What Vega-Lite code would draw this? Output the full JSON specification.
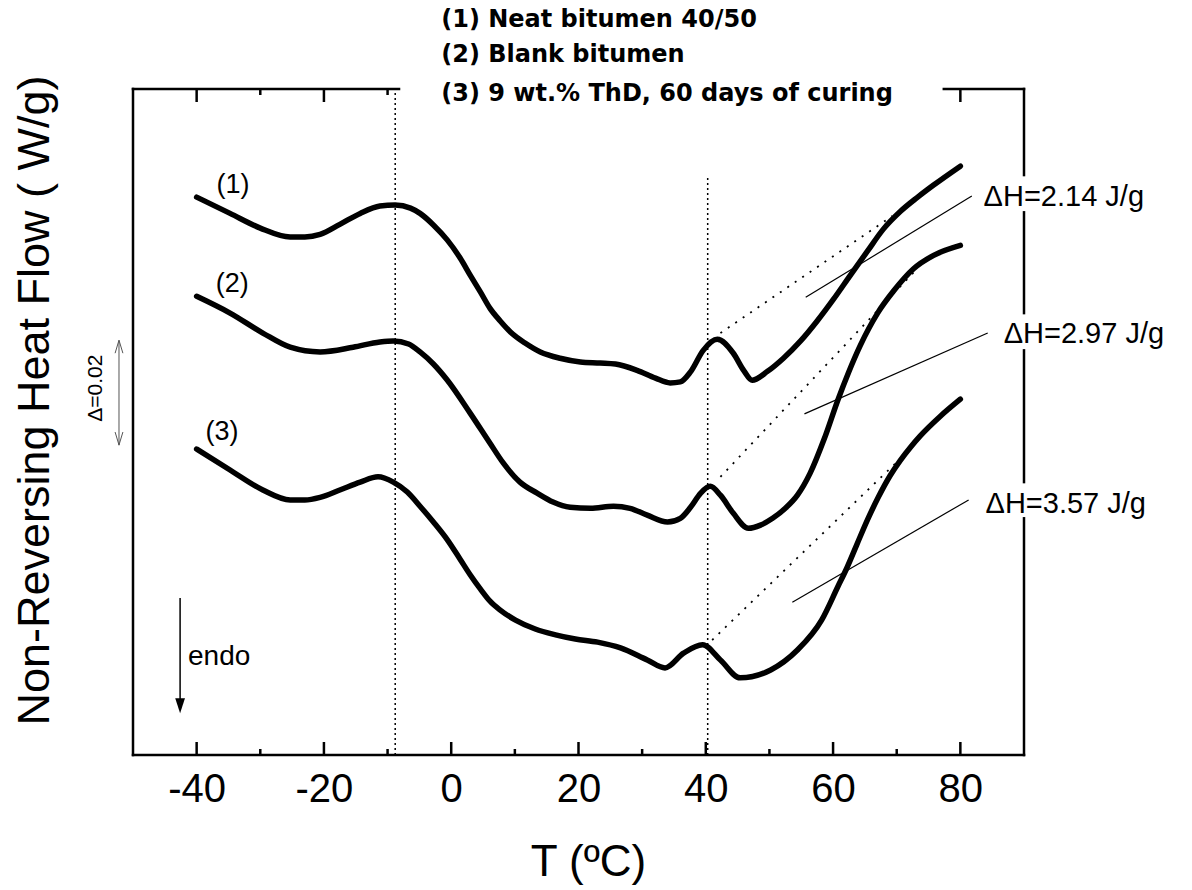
{
  "$schema": "https://vega.github.io/schema/vega-lite/v6.json",
  "width": 891,
  "height": 666,
  "autosize": {"type": "none"},
  "padding": {"left": 133, "top": 89, "right": 168, "bottom": 135},
  "background": "white",
  "config": {"view": {"stroke": null}, "axis": {"grid": false}},
  "datasets": {
    "curves": [
      {"s": 1, "T": -40, "hf": 106.3}, {"s": 1, "T": -34.75, "hf": 103.2}, {"s": 1, "T": -30.0, "hf": 100.4}, {"s": 1, "T": -25.3, "hf": 98.7}, {"s": 1, "T": -23.0, "hf": 98.7}, {"s": 1, "T": -20.6, "hf": 99.2}, {"s": 1, "T": -17.5, "hf": 101.1}, {"s": 1, "T": -14.3, "hf": 103.2}, {"s": 1, "T": -11.2, "hf": 104.6}, {"s": 1, "T": -8.8, "hf": 104.8}, {"s": 1, "T": -6.4, "hf": 104.2}, {"s": 1, "T": -4.9, "hf": 103.2}, {"s": 1, "T": -2.8, "hf": 101.0}, {"s": 1, "T": -0.6, "hf": 98.1}, {"s": 1, "T": 1.4, "hf": 94.7}, {"s": 1, "T": 3.0, "hf": 91.4}, {"s": 1, "T": 4.6, "hf": 88.2}, {"s": 1, "T": 6.1, "hf": 85.1}, {"s": 1, "T": 7.7, "hf": 82.7}, {"s": 1, "T": 9.3, "hf": 80.6}, {"s": 1, "T": 11.6, "hf": 78.5}, {"s": 1, "T": 14.0, "hf": 76.8}, {"s": 1, "T": 17.1, "hf": 75.6}, {"s": 1, "T": 20.3, "hf": 74.9}, {"s": 1, "T": 23.4, "hf": 74.7}, {"s": 1, "T": 25.8, "hf": 74.5}, {"s": 1, "T": 29.2, "hf": 73.3}, {"s": 1, "T": 32.1, "hf": 71.8}, {"s": 1, "T": 34.4, "hf": 70.9}, {"s": 1, "T": 36.0, "hf": 71.1}, {"s": 1, "T": 37.6, "hf": 73.0}, {"s": 1, "T": 39.6, "hf": 77.1}, {"s": 1, "T": 41.8, "hf": 79.2}, {"s": 1, "T": 44.3, "hf": 76.6}, {"s": 1, "T": 46.0, "hf": 73.2}, {"s": 1, "T": 47.3, "hf": 71.4}, {"s": 1, "T": 49.7, "hf": 73.1}, {"s": 1, "T": 52.2, "hf": 75.6}, {"s": 1, "T": 54.9, "hf": 78.9}, {"s": 1, "T": 57.5, "hf": 82.7}, {"s": 1, "T": 60.1, "hf": 86.9}, {"s": 1, "T": 62.7, "hf": 91.4}, {"s": 1, "T": 65.4, "hf": 96.0}, {"s": 1, "T": 67.9, "hf": 100.2}, {"s": 1, "T": 70.6, "hf": 103.6}, {"s": 1, "T": 73.3, "hf": 106.3}, {"s": 1, "T": 75.8, "hf": 108.6}, {"s": 1, "T": 80.0, "hf": 112.2},
      {"s": 2, "T": -40, "hf": 87.4}, {"s": 2, "T": -34.75, "hf": 84.2}, {"s": 2, "T": -29.6, "hf": 80.4}, {"s": 2, "T": -25.3, "hf": 77.7}, {"s": 2, "T": -20.6, "hf": 76.8}, {"s": 2, "T": -15.4, "hf": 77.7}, {"s": 2, "T": -11.2, "hf": 78.7}, {"s": 2, "T": -9.1, "hf": 78.9}, {"s": 2, "T": -6.7, "hf": 78.3}, {"s": 2, "T": -4.9, "hf": 76.8}, {"s": 2, "T": -2.8, "hf": 74.5}, {"s": 2, "T": -0.6, "hf": 71.4}, {"s": 2, "T": 3.0, "hf": 65.1}, {"s": 2, "T": 6.1, "hf": 59.4}, {"s": 2, "T": 8.2, "hf": 55.6}, {"s": 2, "T": 10.8, "hf": 52.0}, {"s": 2, "T": 13.5, "hf": 49.9}, {"s": 2, "T": 16.0, "hf": 48.2}, {"s": 2, "T": 18.7, "hf": 47.2}, {"s": 2, "T": 21.9, "hf": 47.0}, {"s": 2, "T": 25.5, "hf": 47.4}, {"s": 2, "T": 28.1, "hf": 47.0}, {"s": 2, "T": 30.8, "hf": 45.7}, {"s": 2, "T": 34.0, "hf": 44.4}, {"s": 2, "T": 36.0, "hf": 45.1}, {"s": 2, "T": 37.6, "hf": 47.2}, {"s": 2, "T": 39.2, "hf": 49.9}, {"s": 2, "T": 40.7, "hf": 51.2}, {"s": 2, "T": 42.3, "hf": 49.5}, {"s": 2, "T": 44.3, "hf": 46.1}, {"s": 2, "T": 46.7, "hf": 43.2}, {"s": 2, "T": 48.6, "hf": 43.8}, {"s": 2, "T": 50.5, "hf": 45.1}, {"s": 2, "T": 52.5, "hf": 47.0}, {"s": 2, "T": 54.4, "hf": 49.5}, {"s": 2, "T": 56.4, "hf": 53.7}, {"s": 2, "T": 58.6, "hf": 60.2}, {"s": 2, "T": 60.8, "hf": 67.8}, {"s": 2, "T": 62.4, "hf": 72.8}, {"s": 2, "T": 64.3, "hf": 78.1}, {"s": 2, "T": 67.0, "hf": 84.2}, {"s": 2, "T": 69.5, "hf": 88.4}, {"s": 2, "T": 72.6, "hf": 92.6}, {"s": 2, "T": 75.8, "hf": 95.2}, {"s": 2, "T": 80.0, "hf": 97.1},
      {"s": 3, "T": -40, "hf": 58.3}, {"s": 3, "T": -34.75, "hf": 54.3}, {"s": 3, "T": -29.6, "hf": 50.5}, {"s": 3, "T": -25.3, "hf": 48.6}, {"s": 3, "T": -23.0, "hf": 48.6}, {"s": 3, "T": -20.6, "hf": 49.1}, {"s": 3, "T": -17.5, "hf": 50.5}, {"s": 3, "T": -14.3, "hf": 52.0}, {"s": 3, "T": -11.5, "hf": 53.0}, {"s": 3, "T": -9.1, "hf": 52.0}, {"s": 3, "T": -6.9, "hf": 50.1}, {"s": 3, "T": -4.9, "hf": 47.4}, {"s": 3, "T": -2.8, "hf": 44.4}, {"s": 3, "T": -0.6, "hf": 41.0}, {"s": 3, "T": 1.4, "hf": 37.3}, {"s": 3, "T": 3.0, "hf": 34.3}, {"s": 3, "T": 4.6, "hf": 31.6}, {"s": 3, "T": 6.1, "hf": 29.3}, {"s": 3, "T": 7.7, "hf": 27.6}, {"s": 3, "T": 10.1, "hf": 25.7}, {"s": 3, "T": 13.2, "hf": 24.0}, {"s": 3, "T": 16.4, "hf": 22.9}, {"s": 3, "T": 19.5, "hf": 22.1}, {"s": 3, "T": 23.0, "hf": 21.5}, {"s": 3, "T": 26.6, "hf": 20.4}, {"s": 3, "T": 30.8, "hf": 18.1}, {"s": 3, "T": 33.6, "hf": 16.6}, {"s": 3, "T": 36.5, "hf": 19.4}, {"s": 3, "T": 39.5, "hf": 21.0}, {"s": 3, "T": 42.3, "hf": 18.1}, {"s": 3, "T": 45.4, "hf": 14.7}, {"s": 3, "T": 50.2, "hf": 16.2}, {"s": 3, "T": 54.4, "hf": 20.0}, {"s": 3, "T": 58.2, "hf": 25.7}, {"s": 3, "T": 60.8, "hf": 32.2}, {"s": 3, "T": 62.0, "hf": 35.2}, {"s": 3, "T": 63.7, "hf": 40.0}, {"s": 3, "T": 65.4, "hf": 44.8}, {"s": 3, "T": 67.1, "hf": 49.1}, {"s": 3, "T": 69.0, "hf": 53.3}, {"s": 3, "T": 70.6, "hf": 56.2}, {"s": 3, "T": 72.2, "hf": 58.7}, {"s": 3, "T": 73.7, "hf": 60.8}, {"s": 3, "T": 76.9, "hf": 64.6}, {"s": 3, "T": 80.0, "hf": 67.8}
    ],
    "baselines": [
      {"id": "b1", "T": 42.3, "hf": 80.4}, {"id": "b1", "T": 69.3, "hf": 102.7},
      {"id": "b2", "T": 42.3, "hf": 53.0}, {"id": "b2", "T": 73.0, "hf": 92.4},
      {"id": "b3", "T": 41.0, "hf": 21.9}, {"id": "b3", "T": 70.0, "hf": 55.8}
    ],
    "leaders": [
      {"id": "a", "T": 55.7, "hf": 87.2}, {"id": "a", "T": 81.8, "hf": 106.5},
      {"id": "b", "T": 55.5, "hf": 65.0}, {"id": "b", "T": 84.3, "hf": 80.4},
      {"id": "c", "T": 53.6, "hf": 29.1}, {"id": "c", "T": 81.3, "hf": 48.6}
    ],
    "vlines": [
      {"T": -8.8, "hf": 0, "hf2": 126.9},
      {"T": 40.3, "hf": 0, "hf2": 110.5}
    ],
    "frame": [
      {"T": -50, "T2": 90, "hf": 0, "hf2": 0},
      {"T": -50, "T2": -50, "hf": 0, "hf2": 126.9},
      {"T": -50, "T2": -8.2, "hf": 126.9, "hf2": 126.9},
      {"T": 77.4, "T2": 90, "hf": 126.9, "hf2": 126.9},
      {"T": 90, "T2": 90, "hf": 110.5, "hf2": 126.9},
      {"T": 90, "T2": 90, "hf": 84.2, "hf2": 103.4},
      {"T": 90, "T2": 90, "hf": 52.0, "hf2": 77.1},
      {"T": 90, "T2": 90, "hf": 0, "hf2": 45.1}
    ],
    "ticks": [
      {"T": -40, "hf": 0, "kind": "major", "side": "bottom"}, {"T": -20, "hf": 0, "kind": "major", "side": "bottom"}, {"T": 0, "hf": 0, "kind": "major", "side": "bottom"}, {"T": 20, "hf": 0, "kind": "major", "side": "bottom"}, {"T": 40, "hf": 0, "kind": "major", "side": "bottom"}, {"T": 60, "hf": 0, "kind": "major", "side": "bottom"}, {"T": 80, "hf": 0, "kind": "major", "side": "bottom"},
      {"T": -30, "hf": 0, "kind": "minor", "side": "bottom"}, {"T": -10, "hf": 0, "kind": "minor", "side": "bottom"}, {"T": 10, "hf": 0, "kind": "minor", "side": "bottom"}, {"T": 30, "hf": 0, "kind": "minor", "side": "bottom"}, {"T": 50, "hf": 0, "kind": "minor", "side": "bottom"}, {"T": 70, "hf": 0, "kind": "minor", "side": "bottom"},
      {"T": -40, "hf": 126.9, "kind": "major", "side": "top"}, {"T": -20, "hf": 126.9, "kind": "major", "side": "top"}, {"T": 80, "hf": 126.9, "kind": "major", "side": "top"},
      {"T": -30, "hf": 126.9, "kind": "minor", "side": "top"}, {"T": -10, "hf": 126.9, "kind": "minor", "side": "top"}
    ],
    "arrows": [
      {"id": "endo", "T": -42.6, "hf": 10.5, "hf2": 29.9},
      {"id": "delta", "T": -52.2, "hf": 59.0, "hf2": 79.0}
    ],
    "heads": [
      {"id": "endo", "T": -42.6, "hf": 9.4, "dir": "down"},
      {"id": "delta", "T": -52.2, "hf": 77.8, "dir": "up"},
      {"id": "delta", "T": -52.2, "hf": 60.3, "dir": "down"}
    ],
    "labels": [
      {"g": "num", "T": -34.3, "hf": 108.6, "text": "(1)"},
      {"g": "num", "T": -34.4, "hf": 89.7, "text": "(2)"},
      {"g": "num", "T": -36.0, "hf": 61.5, "text": "(3)"},
      {"g": "endo", "T": -41.35, "hf": 17.1, "text": "endo"},
      {"g": "dh", "T": 83.65, "hf": 104.6, "text": "ΔH=2.14 J/g"},
      {"g": "dh", "T": 86.8, "hf": 78.5, "text": "ΔH=2.97 J/g"},
      {"g": "dh", "T": 83.96, "hf": 46.1, "text": "ΔH=3.57 J/g"},
      {"g": "leg", "T": -1.57, "hf": 138.7, "text": "(1) Neat bitumen 40/50"},
      {"g": "leg", "T": -1.57, "hf": 132.0, "text": "(2) Blank bitumen"},
      {"g": "leg", "T": -1.57, "hf": 124.6, "text": "(3) 9 wt.% ThD, 60 days of curing"},
      {"g": "delta", "T": -55.8, "hf": 69.9, "text": "Δ=0.02"}
    ]
  },
  "encoding": {
    "x": {
      "field": "T", "type": "quantitative",
      "scale": {"domain": [-50, 90], "nice": false, "zero": false},
      "axis": {
        "values": [-40, -20, 0, 20, 40, 60, 80], "ticks": false, "domain": false, "grid": false,
        "labelExpr": "'' + datum.value",
        "labelFont": "Liberation Sans", "labelFontSize": 40, "labelColor": "black", "labelPadding": 14, "labelFlush": false,
        "title": "T (ºC)", "titleFont": "Liberation Sans", "titleFontSize": 44, "titleFontWeight": "normal", "titleColor": "black",
        "titleX": 455, "titleY": 120, "titleBaseline": "alphabetic", "titleAlign": "center"
      }
    },
    "y": {
      "field": "hf", "type": "quantitative",
      "scale": {"domain": [0, 126.9], "nice": false, "zero": false},
      "axis": {
        "labels": false, "ticks": false, "domain": false, "grid": false,
        "title": "Non-Reversing Heat Flow ( W/g)", "titleFont": "Liberation Sans", "titleFontSize": 45, "titleFontWeight": "normal", "titleColor": "black",
        "titleX": -99, "titleY": 311, "titleAngle": 270, "titleBaseline": "middle", "titleAlign": "center"
      }
    }
  },
  "layer": [
    {
      "data": {"name": "frame"},
      "mark": {"type": "rule", "color": "black", "strokeWidth": 2.5, "strokeCap": "square"},
      "encoding": {"x2": {"field": "T2"}, "y2": {"field": "hf2"}}
    },
    {
      "data": {"name": "ticks"},
      "transform": [{"filter": "datum.side === 'bottom' && datum.kind === 'major'"}],
      "mark": {"type": "tick", "orient": "vertical", "size": 13, "thickness": 2.5, "yOffset": -6.5, "color": "black", "opacity": 1}
    },
    {
      "data": {"name": "ticks"},
      "transform": [{"filter": "datum.side === 'bottom' && datum.kind === 'minor'"}],
      "mark": {"type": "tick", "orient": "vertical", "size": 6, "thickness": 2.5, "yOffset": -3, "color": "black", "opacity": 1}
    },
    {
      "data": {"name": "ticks"},
      "transform": [{"filter": "datum.side === 'top' && datum.kind === 'major'"}],
      "mark": {"type": "tick", "orient": "vertical", "size": 13, "thickness": 2.5, "yOffset": 6.5, "color": "black", "opacity": 1}
    },
    {
      "data": {"name": "ticks"},
      "transform": [{"filter": "datum.side === 'top' && datum.kind === 'minor'"}],
      "mark": {"type": "tick", "orient": "vertical", "size": 6, "thickness": 2.5, "yOffset": 3, "color": "black", "opacity": 1}
    },
    {
      "data": {"name": "vlines"},
      "mark": {"type": "rule", "color": "black", "strokeWidth": 1.5, "strokeDash": [2, 3]},
      "encoding": {"y2": {"field": "hf2"}}
    },
    {
      "data": {"name": "baselines"},
      "mark": {"type": "line", "color": "black", "strokeWidth": 1.8, "strokeDash": [2, 7]},
      "encoding": {"detail": {"field": "id"}}
    },
    {
      "data": {"name": "leaders"},
      "mark": {"type": "line", "color": "black", "strokeWidth": 1.2},
      "encoding": {"detail": {"field": "id"}}
    },
    {
      "data": {"name": "curves"},
      "mark": {"type": "line", "color": "black", "strokeWidth": 5.5, "interpolate": "monotone", "strokeCap": "round", "strokeJoin": "round"},
      "encoding": {"detail": {"field": "s"}}
    },
    {
      "data": {"name": "arrows"},
      "transform": [{"filter": "datum.id === 'endo'"}],
      "mark": {"type": "rule", "color": "black", "strokeWidth": 1.5},
      "encoding": {"y2": {"field": "hf2"}}
    },
    {
      "data": {"name": "arrows"},
      "transform": [{"filter": "datum.id === 'delta'"}],
      "mark": {"type": "rule", "color": "#555555", "strokeWidth": 1},
      "encoding": {"y2": {"field": "hf2"}}
    },
    {
      "data": {"name": "heads"},
      "transform": [{"filter": "datum.id === 'endo'"}],
      "mark": {"type": "point", "shape": "M-0.65,-1L0,1L0.65,-1Z", "size": 225, "filled": true, "color": "black", "opacity": 1}
    },
    {
      "data": {"name": "heads"},
      "transform": [{"filter": "datum.id === 'delta' && datum.dir === 'up'"}],
      "mark": {"type": "point", "shape": "M-0.6,1L0,-1L0.6,1", "size": 169, "filled": false, "stroke": "#555555", "strokeWidth": 1, "opacity": 1}
    },
    {
      "data": {"name": "heads"},
      "transform": [{"filter": "datum.id === 'delta' && datum.dir === 'down'"}],
      "mark": {"type": "point", "shape": "M-0.6,-1L0,1L0.6,-1", "size": 169, "filled": false, "stroke": "#555555", "strokeWidth": 1, "opacity": 1}
    },
    {
      "data": {"name": "labels"},
      "transform": [{"filter": "datum.g === 'num'"}],
      "mark": {"type": "text", "font": "Liberation Sans", "fontSize": 27, "align": "center", "baseline": "middle", "color": "black"},
      "encoding": {"text": {"field": "text"}}
    },
    {
      "data": {"name": "labels"},
      "transform": [{"filter": "datum.g === 'endo'"}],
      "mark": {"type": "text", "font": "Liberation Sans", "fontSize": 28, "align": "left", "baseline": "alphabetic", "color": "black"},
      "encoding": {"text": {"field": "text"}}
    },
    {
      "data": {"name": "labels"},
      "transform": [{"filter": "datum.g === 'dh'"}],
      "mark": {"type": "text", "font": "Liberation Sans", "fontSize": 29, "align": "left", "baseline": "alphabetic", "color": "black"},
      "encoding": {"text": {"field": "text"}}
    },
    {
      "data": {"name": "labels"},
      "transform": [{"filter": "datum.g === 'leg'"}],
      "mark": {"type": "text", "font": "DejaVu Sans", "fontWeight": "bold", "fontSize": 24, "align": "left", "baseline": "alphabetic", "color": "black"},
      "encoding": {"text": {"field": "text"}}
    },
    {
      "data": {"name": "labels"},
      "transform": [{"filter": "datum.g === 'delta'"}],
      "mark": {"type": "text", "font": "Liberation Sans", "fontSize": 21, "align": "center", "baseline": "middle", "angle": 270, "color": "black"},
      "encoding": {"text": {"field": "text"}}
    }
  ]
}
